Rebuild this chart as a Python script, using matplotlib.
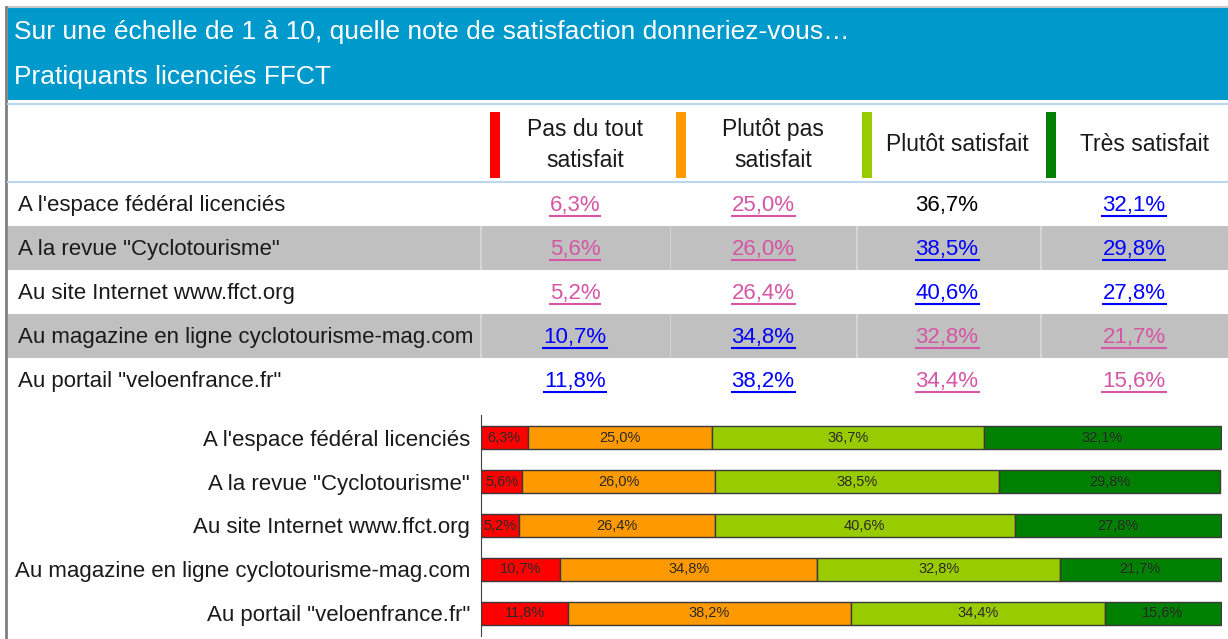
import matplotlib.pyplot as plt
from matplotlib.patches import Rectangle
from matplotlib.lines import Line2D
import numpy as np

plt.rcParams['font.family'] = ['Liberation Sans Narrow', 'Liberation Sans', 'DejaVu Sans']

W, H = 1228, 639

TITLE = "Sur une échelle de 1 à 10, quelle note de satisfaction donneriez-vous…"
SUBTITLE = "Pratiquants licenciés FFCT"

items = [
    "A l'espace fédéral licenciés",
    'A la revue "Cyclotourisme"',
    "Au site Internet www.ffct.org",
    "Au magazine en ligne cyclotourisme-mag.com",
    'Au portail "veloenfrance.fr"',
]
levels = ["Pas du tout\nsatisfait", "Plutôt pas\nsatisfait", "Plutôt satisfait", "Très satisfait"]

pas_du_tout = [6.3, 5.6, 5.2, 10.7, 11.8]
plutot_pas = [25.0, 26.0, 26.4, 34.8, 38.2]
plutot_satisfait = [36.7, 38.5, 40.6, 32.8, 34.4]
tres_satisfait = [32.1, 29.8, 27.8, 21.7, 15.6]

series = [pas_du_tout, plutot_pas, plutot_satisfait, tres_satisfait]
level_colors = ["#FF0000", "#FF9900", "#99CC00", "#008000"]


def fx(px):
    return px / W


def fy(py):
    return 1 - py / H


def pct(v):
    return f"{v:.1f}".replace(".", ",") + "%"


fig = plt.figure(figsize=(W / 100, H / 100), dpi=100)


def frect(x0, y0, x1, y1, color):
    fig.patches.append(Rectangle((fx(x0), fy(y1)), fx(x1) - fx(x0), (y1 - y0) / H,
                                 transform=fig.transFigure, color=color, lw=0, zorder=0))


def fline(x0, y0, x1, y1, color, lw):
    fig.lines.append(Line2D([fx(x0), fx(x1)], [fy(y0), fy(y1)], transform=fig.transFigure,
                            color=color, lw=lw))


# frame + header band
fline(6, 7, 1228, 7, "#C8C8C8", 1.5)
fline(6, 7, 6, 639, "#7F7F7F", 2)
frect(8, 8, 1228, 100, "#0099CC")
fig.text(fx(14), fy(32), TITLE, color="white", fontsize=19, va="center", ha="left")
fig.text(fx(14), fy(77), SUBTITLE, color="white", fontsize=19, va="center", ha="left")

fline(8, 104, 1228, 104, "#BDD7EE", 1.5)
fline(8, 182, 1228, 182, "#BDD7EE", 1.5)

# table header
col_x = [575, 763, 947, 1134]
marker_x = [490, 676, 862, 1046]
for i, lab in enumerate(levels):
    frect(marker_x[i], 112, marker_x[i] + 10, 178, level_colors[i])
    fig.text(fx(col_x[i] + 10), fy(145), lab, fontsize=16.5, ha="center", va="center",
             linespacing=1.4, color="#1a1a1a")

# table rows
row_y = [204, 248, 292, 336, 380]
row_h = 44
for r, name in enumerate(items):
    if r % 2 == 1:
        frect(8, row_y[r] - row_h / 2, 1228, row_y[r] + row_h / 2, "#C0C0C0")
        for sx in [480, 670, 856, 1040]:
            frect(sx, row_y[r] - row_h / 2, sx + 1.5, row_y[r] + row_h / 2, "#D4D4D4")
    fig.text(fx(18), fy(row_y[r] + 2), name, fontsize=16, ha="left", va="center",
             family=["Liberation Sans"], color="#1a1a1a")

renderer = fig.canvas.get_renderer()
for c, vals in enumerate(series):
    mean = np.mean(vals)
    for r, v in enumerate(vals):
        diff = v - mean
        if abs(diff) < 0.5:
            color, under = "black", False
        elif diff > 0:
            color, under = "#0000FF", True
        else:
            color, under = "#D456A4", True
        t = fig.text(fx(col_x[c]), fy(row_y[r] + 2), pct(v), fontsize=16, ha="center", va="center",
                     family=["Liberation Sans"], color=color)
        if under:
            bb = t.get_window_extent(renderer)
            yl = bb.y0 + 1
            fig.lines.append(Line2D([bb.x0 / W, bb.x1 / W], [yl / H, yl / H],
                                    transform=fig.transFigure, color=color, lw=1.5))

# stacked bar chart
ax = fig.add_axes([fx(481), fy(636), (1222 - 481) / W, (636 - 415) / H])
y = np.arange(len(items))
left = np.zeros(len(items))
for vals, col in zip(series, level_colors):
    bars = ax.barh(y, vals, left=left, height=0.52, color=col, edgecolor="#3a3a3a", lw=1)
    ax.bar_label(bars, labels=[pct(v) for v in vals], label_type="center", fontsize=10.5,
                 color="#2a2a2a", family=["Liberation Sans"])
    left += np.array(vals)

ax.set_xlim(0, 100.2)
ax.set_ylim(len(items) - 0.48, -0.52)
ax.set_yticks(y)
ax.set_yticklabels(items, fontsize=16, family=["Liberation Sans"], color="#1a1a1a")
ax.tick_params(axis="y", length=0, pad=8)
ax.set_xticks([])
for s in ["top", "right", "bottom"]:
    ax.spines[s].set_visible(False)
ax.spines["left"].set_color("#404040")
ax.set_facecolor("none")

fig.savefig("out.png", dpi=100)
